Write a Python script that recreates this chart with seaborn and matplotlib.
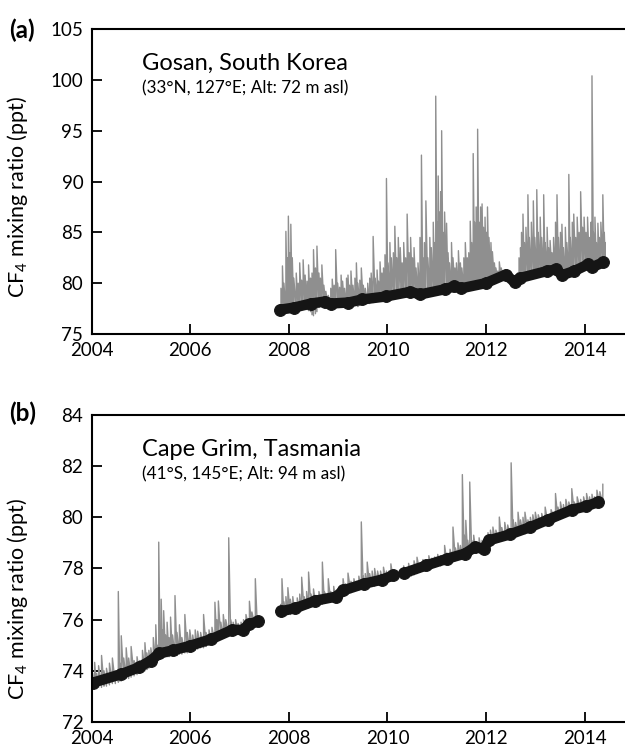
import numpy as np
import pandas as pd
import matplotlib
matplotlib.use('Agg')
import matplotlib.pyplot as plt
import seaborn as sns

sns.set_theme(style='ticks')
plt.rcParams['font.family'] = ['Lato', 'DejaVu Sans']
plt.rcParams['mathtext.default'] = 'regular'
plt.rcParams['text.color'] = 'black'
plt.rcParams['axes.labelcolor'] = 'black'

GREY = '#8f8f8f'
BLACK = '#151515'

# ---- Gosan (a): grey = individual measurements (time, low, high), black = baseline
gosan_t = [2007.84, 2007.87, 2007.90, 2007.94, 2007.97, 2007.99, 2008.02, 2008.04, 2008.07, 2008.10,
           2008.15, 2008.19, 2008.22, 2008.26, 2008.29, 2008.33, 2008.37, 2008.40, 2008.44, 2008.47,
           2008.50, 2008.54, 2008.57, 2008.61, 2008.64, 2008.67, 2008.71, 2008.75, 2008.80, 2008.85,
           2008.88, 2008.92, 2008.95, 2008.99, 2009.03, 2009.06, 2009.09, 2009.13, 2009.17, 2009.20,
           2009.23, 2009.26, 2009.30, 2009.34, 2009.37, 2009.40, 2009.44, 2009.47, 2009.51, 2009.55,
           2009.60, 2009.64, 2009.67, 2009.71, 2009.75, 2009.79, 2009.82, 2009.85, 2009.89, 2009.92,
           2009.95, 2009.98, 2010.01, 2010.05, 2010.08, 2010.12, 2010.15, 2010.19, 2010.22, 2010.26,
           2010.30, 2010.33, 2010.37, 2010.40, 2010.44, 2010.47, 2010.51, 2010.54, 2010.58, 2010.62,
           2010.66, 2010.69, 2010.72, 2010.75, 2010.78, 2010.82, 2010.86, 2010.89, 2010.93, 2010.96,
           2010.98, 2011.01, 2011.03, 2011.06, 2011.08, 2011.10, 2011.13, 2011.16, 2011.20, 2011.23,
           2011.26, 2011.30, 2011.33, 2011.37, 2011.40, 2011.44, 2011.48, 2011.51, 2011.55, 2011.58,
           2011.62, 2011.65, 2011.68, 2011.71, 2011.74, 2011.77, 2011.80, 2011.83, 2011.86, 2011.89,
           2011.92, 2011.95, 2011.98, 2012.01, 2012.03, 2012.06, 2012.10, 2012.13, 2012.17, 2012.20,
           2012.24, 2012.27, 2012.31, 2012.35, 2012.40, 2012.44, 2012.48, 2012.52, 2012.56, 2012.60,
           2012.64, 2012.67, 2012.70, 2012.72, 2012.75, 2012.78, 2012.81, 2012.85, 2012.88, 2012.92,
           2012.96, 2012.99, 2013.03, 2013.06, 2013.10, 2013.13, 2013.17, 2013.20, 2013.24, 2013.27,
           2013.30, 2013.34, 2013.37, 2013.41, 2013.44, 2013.47, 2013.51, 2013.54, 2013.57, 2013.61,
           2013.64, 2013.68, 2013.71, 2013.75, 2013.78, 2013.82, 2013.85, 2013.89, 2013.92, 2013.96,
           2013.99, 2014.03, 2014.06, 2014.10, 2014.13, 2014.15, 2014.18, 2014.21, 2014.24, 2014.27,
           2014.30, 2014.33, 2014.37, 2014.40, 2014.42]
gosan_lo = [77.0, 77.1, 77.1, 77.2, 77.2, 77.3, 77.3, 77.3, 77.4, 77.4,
            77.5, 77.5, 77.6, 77.6, 77.6, 77.5, 77.4, 77.3, 77.2, 76.9,
            76.8, 77.0, 77.2, 77.6, 77.8, 77.8, 77.9, 77.9, 77.8, 77.8,
            77.8, 77.8, 77.8, 77.8, 77.8, 77.8, 77.8, 77.7, 77.7, 77.7,
            77.7, 77.7, 77.7, 77.8, 77.8, 77.7, 77.8, 77.9, 78.0, 78.0,
            78.0, 78.0, 78.1, 78.1, 78.2, 78.2, 78.3, 78.3, 78.3, 78.4,
            78.4, 78.4, 78.4, 78.5, 78.5, 78.6, 78.6, 78.6, 78.7, 78.7,
            78.7, 78.8, 78.8, 78.8, 78.8, 78.8, 78.7, 78.6, 78.5, 78.5,
            78.5, 78.5, 78.6, 78.6, 78.7, 78.8, 78.9, 78.9, 78.9, 79.0,
            79.0, 79.0, 79.0, 79.1, 79.1, 79.1, 79.1, 79.1, 79.1, 79.2,
            79.2, 79.3, 79.4, 79.4, 79.3, 79.2, 79.2, 79.2, 79.3, 79.4,
            79.5, 79.6, 79.6, 79.7, 79.7, 79.7, 79.7, 79.7, 79.8, 79.8,
            79.8, 79.8, 79.9, 79.9, 79.9, 80.0, 80.0, 80.1, 80.1, 80.2,
            80.3, 80.3, 80.4, 80.4, 80.4, 80.5, 80.2, 79.9, 79.6, 79.6,
            79.9, 80.1, 80.2, 80.2, 80.3, 80.3, 80.3, 80.4, 80.4, 80.5,
            80.5, 80.6, 80.6, 80.7, 80.7, 80.7, 80.8, 80.8, 80.9, 80.9,
            81.0, 81.0, 81.0, 80.9, 80.8, 80.5, 80.3, 80.3, 80.3, 80.4,
            80.5, 80.6, 80.7, 80.8, 80.9, 80.9, 81.0, 81.1, 81.2, 81.3,
            81.3, 81.4, 81.4, 81.3, 81.4, 81.5, 81.5, 81.5, 81.6, 81.7,
            81.7, 81.7, 81.8, 81.8, 81.9]
gosan_hi = [79.5, 81.7, 80.0, 85.1, 82.5, 86.6, 83.0, 85.8, 82.5, 80.5,
            81.0, 80.0, 82.0, 80.3, 82.3, 80.8, 80.2, 81.8, 80.5, 81.0,
            83.3, 81.5, 83.65, 81.0, 80.5, 81.8, 79.8, 79.2, 78.8, 79.5,
            80.4, 79.8, 83.3, 80.0, 79.6, 80.8, 80.2, 79.5, 80.5, 80.8,
            79.8, 81.2, 79.8, 80.5, 82.0, 80.0, 80.3, 81.5, 79.8, 79.5,
            80.0, 80.5, 81.0, 84.6, 80.5, 81.3, 80.2, 82.1, 81.0, 81.5,
            82.8, 90.3, 82.0, 84.0, 82.5, 83.0, 85.6, 82.5, 84.5, 83.5,
            82.0, 84.0, 82.5, 86.8, 83.0, 84.5, 82.5, 83.5, 81.5, 82.0,
            84.5, 92.6, 82.5, 84.0, 88.1, 82.5, 84.5, 83.5, 86.0, 84.0,
            98.4, 86.0, 90.55, 87.0, 89.0, 95.0, 85.0, 87.0, 85.9, 83.0,
            82.0, 84.0, 82.5, 81.5, 82.0, 83.2, 82.0, 81.5, 82.5, 84.0,
            82.5, 83.0, 86.1, 84.0, 92.75, 86.0, 87.5, 95.15, 86.0, 87.5,
            87.8, 85.5, 86.5, 85.0, 87.5, 84.5, 84.0, 83.1, 82.0, 81.5,
            81.2, 82.1, 81.5, 81.0, 81.3, 81.2, 81.0, 80.8, 80.6, 80.5,
            81.0, 82.5, 83.5, 85.0, 86.8, 84.0, 85.5, 88.7, 84.5, 86.0,
            88.1, 84.5, 89.2, 85.0, 86.5, 84.5, 88.7, 84.0, 85.5, 83.5,
            84.2, 83.0, 84.5, 86.0, 88.7, 84.5, 85.0, 85.8, 83.5, 85.5,
            84.0, 90.7, 84.5, 86.0, 86.8, 84.5, 86.5, 85.0, 89.0, 85.5,
            86.5, 85.0, 86.5, 84.5, 86.0, 100.4, 85.0, 86.5, 84.0, 85.9,
            84.5, 86.0, 88.7, 85.0, 84.0]

gosan_base_t = [2007.83, 2008.10, 2008.45, 2008.73, 2008.85, 2009.21, 2009.49, 2009.98, 2010.46,
                2010.67, 2011.16, 2011.36, 2011.50, 2011.99, 2012.40, 2012.58, 2012.68, 2013.24,
                2013.41, 2013.55, 2013.79, 2014.07, 2014.16, 2014.38]
gosan_base_v = [77.4, 77.6, 78.0, 78.2, 78.0, 78.1, 78.4, 78.7, 79.15,
                78.9, 79.4, 79.7, 79.5, 80.0, 80.85, 80.1, 80.5, 81.2,
                81.35, 80.8, 81.2, 81.85, 81.6, 82.05]

# ---- Cape Grim (b)
grim_t = [2004.02, 2004.06, 2004.10, 2004.14, 2004.20, 2004.25, 2004.30, 2004.36, 2004.42, 2004.48,
          2004.54, 2004.57, 2004.60, 2004.65, 2004.70, 2004.75, 2004.80, 2004.86, 2004.92, 2004.97,
          2005.03, 2005.08, 2005.12, 2005.16, 2005.20, 2005.25, 2005.30, 2005.33, 2005.36, 2005.39,
          2005.41, 2005.44, 2005.46, 2005.50, 2005.53, 2005.57, 2005.60, 2005.64, 2005.69, 2005.73,
          2005.78, 2005.83, 2005.89, 2005.94, 2005.99, 2006.05, 2006.10, 2006.15, 2006.21, 2006.27,
          2006.32, 2006.38, 2006.44, 2006.50, 2006.54, 2006.57, 2006.62, 2006.67, 2006.72, 2006.78,
          2006.82, 2006.87, 2006.92, 2006.97, 2007.03, 2007.08, 2007.13, 2007.20, 2007.25, 2007.32,
          2007.36, 2007.40,
          2007.84, 2007.86, 2007.90, 2007.94, 2007.98, 2008.03, 2008.08, 2008.12, 2008.17, 2008.22,
          2008.26, 2008.31, 2008.36, 2008.40, 2008.45, 2008.50, 2008.55, 2008.61, 2008.68, 2008.72,
          2008.80, 2008.85, 2008.91, 2008.96, 2009.03, 2009.10, 2009.15, 2009.20, 2009.26, 2009.32,
          2009.38, 2009.42, 2009.47, 2009.51, 2009.55, 2009.59, 2009.64, 2009.69, 2009.74, 2009.80,
          2009.86, 2009.92, 2009.98, 2010.03, 2010.07, 2010.12,
          2010.33, 2010.38, 2010.43, 2010.48, 2010.54, 2010.60, 2010.66, 2010.72, 2010.78, 2010.84,
          2010.90, 2010.96, 2011.02, 2011.08, 2011.16, 2011.21, 2011.27, 2011.33, 2011.38, 2011.43,
          2011.48, 2011.52, 2011.56, 2011.59, 2011.63, 2011.67, 2011.71, 2011.75, 2011.80, 2011.86,
          2011.92, 2011.98, 2012.04, 2012.09, 2012.14, 2012.20, 2012.27, 2012.32, 2012.38, 2012.44,
          2012.51, 2012.55, 2012.60, 2012.65, 2012.70, 2012.75, 2012.79, 2012.85, 2012.90, 2012.95,
          2013.00, 2013.06, 2013.13, 2013.20, 2013.26, 2013.32, 2013.41, 2013.46, 2013.51, 2013.57,
          2013.62, 2013.68, 2013.74, 2013.79, 2013.85, 2013.92, 2013.98, 2014.04, 2014.10, 2014.15,
          2014.20, 2014.25, 2014.31, 2014.37]
grim_lo = [73.3, 73.3, 73.3, 73.35, 73.35, 73.4, 73.4, 73.45, 73.5, 73.5,
           73.55, 73.6, 73.6, 73.65, 73.7, 73.7, 73.75, 73.8, 73.85, 73.9,
           73.95, 74.0, 74.05, 74.1, 74.15, 74.2, 74.3, 74.35, 74.4, 74.45,
           74.5, 74.5, 74.55, 74.55, 74.55, 74.55, 74.6, 74.6, 74.6, 74.6,
           74.65, 74.65, 74.7, 74.7, 74.75, 74.8, 74.8, 74.85, 74.9, 74.9,
           74.95, 75.0, 75.05, 75.1, 75.15, 75.2, 75.25, 75.3, 75.35, 75.4,
           75.4, 75.45, 75.45, 75.45, 75.45, 75.5, 75.55, 75.6, 75.65, 75.7,
           75.75, 75.8,
           76.1, 76.1, 76.15, 76.15, 76.2, 76.2, 76.25, 76.25, 76.3, 76.35,
           76.35, 76.4, 76.45, 76.45, 76.5, 76.55, 76.55, 76.6, 76.6, 76.65,
           76.7, 76.7, 76.7, 76.7, 76.8, 76.9, 76.95, 77.0, 77.05, 77.1,
           77.15, 77.15, 77.2, 77.2, 77.25, 77.25, 77.3, 77.3, 77.3, 77.35,
           77.35, 77.4, 77.45, 77.5, 77.5, 77.55,
           77.6, 77.65, 77.65, 77.7, 77.75, 77.8, 77.85, 77.9, 77.9, 77.95,
           78.0, 78.05, 78.1, 78.1, 78.15, 78.2, 78.25, 78.3, 78.3, 78.35,
           78.4, 78.4, 78.45, 78.5, 78.5, 78.55, 78.6, 78.6, 78.6, 78.6,
           78.55, 78.6, 78.8, 78.9, 78.95, 79.0, 79.05, 79.1, 79.1, 79.15,
           79.2, 79.2, 79.25, 79.3, 79.3, 79.35, 79.35, 79.4, 79.45, 79.5,
           79.55, 79.6, 79.65, 79.7, 79.75, 79.8, 79.85, 79.9, 79.95, 80.0,
           80.05, 80.1, 80.15, 80.2, 80.2, 80.25, 80.3, 80.3, 80.35, 80.35,
           80.4, 80.45, 80.45, 80.5]
grim_hi = [73.9, 74.33, 73.9, 74.2, 74.6, 74.0, 74.1, 74.3, 74.5, 74.0,
           77.1, 74.3, 75.37, 74.5, 74.9, 74.5, 74.95, 74.4, 74.55, 74.4,
           74.8, 75.1, 74.7, 74.8, 74.9, 75.3, 75.8, 75.0, 79.03, 75.5,
           76.8, 75.6, 76.35, 75.4, 75.9, 75.3, 76.1, 75.4, 76.94, 75.5,
           75.8, 75.3, 76.2, 75.5, 75.6, 75.4, 75.6, 75.55, 75.5, 76.2,
           75.5, 75.6, 75.7, 76.68, 76.0, 76.73, 75.9, 76.2, 76.0, 79.2,
           76.0, 75.9, 76.0, 75.85, 75.9, 76.0, 76.2, 76.72, 76.3, 77.6,
           76.1, 76.1,
           76.6, 77.6, 76.7, 76.9, 77.25, 76.8, 76.9, 76.6, 76.85, 77.0,
           77.66, 76.9, 77.1, 77.86, 77.0, 77.2, 76.95, 77.1, 78.25, 77.1,
           77.6, 77.1, 77.3, 77.0, 77.2, 77.6, 77.4, 77.82, 77.5, 77.6,
           77.5, 77.7, 79.82, 77.7, 77.8, 78.25, 77.8, 77.9, 78.0, 77.9,
           77.9, 78.05, 77.9, 77.9, 78.18, 77.9,
           78.1, 78.0, 78.2, 78.1, 78.3, 78.44, 78.2, 78.35, 78.3, 78.5,
           78.4, 78.45, 78.55, 78.5, 78.9, 78.6, 78.75, 79.62, 78.8, 79.0,
           78.9, 81.67, 79.3, 79.88, 79.1, 81.38, 79.1, 79.3, 79.0, 79.2,
           79.1, 79.2, 79.4, 79.5, 79.62, 79.5, 80.01, 79.6, 79.8, 79.7,
           82.13, 79.9, 79.8, 80.2, 79.9, 80.0, 80.2, 79.9, 80.0, 80.1,
           80.2, 80.1, 80.15, 80.4, 80.1, 80.3, 80.93, 80.4, 80.6, 80.5,
           80.7, 80.6, 81.12, 80.6, 80.8, 80.7, 80.8, 80.93, 80.8, 80.9,
           80.8, 81.06, 81.0, 81.3]

grim_base_t = [2004.03, 2004.60, 2004.95, 2005.20, 2005.37, 2005.65, 2006.00, 2006.43, 2006.85,
               2007.06, 2007.20, 2007.38,
               2007.84, 2008.12, 2008.54, 2008.96, 2009.10, 2009.52, 2009.88, 2010.12,
               2010.34, 2010.79, 2011.21, 2011.57, 2011.78, 2011.95, 2012.06, 2012.48, 2012.90,
               2013.26, 2013.75, 2014.03, 2014.28]
grim_base_v = [73.54, 73.87, 74.13, 74.4, 74.68, 74.8, 74.98, 75.24, 75.6,
               75.6, 75.83, 75.93,
               76.33, 76.44, 76.74, 76.9, 77.14, 77.4, 77.56, 77.73,
               77.82, 78.12, 78.38, 78.58, 78.84, 78.77, 79.1, 79.33, 79.62,
               79.91, 80.3, 80.43, 80.6]
grim_gaps = [2007.6, 2010.25]

years = [2004, 2006, 2008, 2010, 2012, 2014]


def spike_frame(t, lo, hi, gaps):
    t = np.asarray(t)
    seg = np.searchsorted(gaps, t)
    return pd.DataFrame({
        't': np.repeat(t, 2),
        'v': np.column_stack([lo, hi]).ravel(),
        'seg': np.repeat(seg, 2),
    })


def draw_panel(ax, grey, base_t, base_v, gaps, ylim, yticks, name, coords):
    sns.lineplot(ax=ax, data=grey, x='t', y='v', units='seg', estimator=None,
                 sort=False, color=GREY, linewidth=1.0)
    base = pd.DataFrame({'t': base_t, 'v': base_v,
                         'seg': np.searchsorted(gaps, base_t)})
    sns.lineplot(ax=ax, data=base, x='t', y='v', units='seg', estimator=None,
                 color=BLACK, linewidth=7.5, marker='o', markersize=8.5,
                 markeredgecolor=BLACK, solid_capstyle='round')
    ax.set_xlim(2004, 2014.82)
    ax.set_ylim(*ylim)
    ax.set_xticks(years)
    ax.set_yticks(yticks)
    ax.tick_params(direction='in', length=7, width=1.3, labelsize=13.5, pad=6,
                   colors='black')
    ax.set_xlabel('')
    ax.set_ylabel('CF$_4$ mixing ratio (ppt)', fontsize=15.5)
    ax.spines['right'].set_visible(False)
    for s in ['left', 'bottom', 'top']:
        ax.spines[s].set_linewidth(1.5)
        ax.spines[s].set_color('black')
    ax.text(0.094, 0.889, name, transform=ax.transAxes, fontsize=17,
            va='center', ha='left')
    ax.text(0.094, 0.805, coords, transform=ax.transAxes, fontsize=12.3,
            va='center', ha='left')


fig = plt.figure(figsize=(6.25, 7.53), dpi=100)
ax_a = fig.add_axes([0.1467, 0.5564, 0.8533, 0.405])
ax_b = fig.add_axes([0.1467, 0.0412, 0.8533, 0.4077])

draw_panel(ax_a, spike_frame(gosan_t, gosan_lo, gosan_hi, []), gosan_base_t, gosan_base_v, [],
           (75, 105), [75, 80, 85, 90, 95, 100, 105],
           'Gosan, South Korea', '(33°N, 127°E; Alt: 72 m asl)')
draw_panel(ax_b, spike_frame(grim_t, grim_lo, grim_hi, grim_gaps), grim_base_t, grim_base_v,
           grim_gaps, (72, 84), [72, 74, 76, 78, 80, 82, 84],
           'Cape Grim, Tasmania', '(41°S, 145°E; Alt: 94 m asl)')

ax_a.yaxis.set_label_coords(-0.115, 0.45)
ax_b.yaxis.set_label_coords(-0.115, 0.40)

fig.text(0.015, 1 - 30 / 753, '(a)', fontsize=17.5, fontweight='bold', va='center')
fig.text(0.015, 1 - 413 / 753, '(b)', fontsize=17.5, fontweight='bold', va='center')

fig.savefig('out.png', dpi=100)
